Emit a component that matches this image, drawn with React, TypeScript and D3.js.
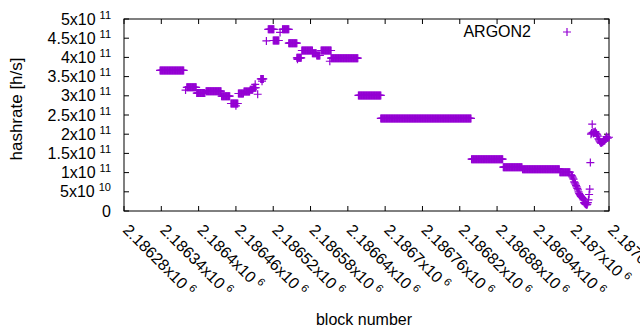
import { scaleLinear, range } from "d3";

const xTickValues = [
  2186280, 2186340, 2186400, 2186460, 2186520, 2186580, 2186640, 2186700,
  2186760, 2186820, 2186880, 2186940, 2187000, 2187060,
];
const xTickLabels = [
  "2.18628", "2.18634", "2.1864", "2.18646", "2.18652", "2.18658", "2.18664",
  "2.1867", "2.18676", "2.18682", "2.18688", "2.18694", "2.187", "2.18706",
];
const yTickValues = [0, 5e10, 1e11, 1.5e11, 2e11, 2.5e11, 3e11, 3.5e11, 4e11, 4.5e11, 5e11];
const yTickMantissas = ["0", "5", "1", "1.5", "2", "2.5", "3", "3.5", "4", "4.5", "5"];
const yTickExponents = ["", "10", "11", "11", "11", "11", "11", "11", "11", "11", "11"];

// constant-hashrate stretches (one point per block)
const runStartBlock = [
  2186338, 2186381, 2186397, 2186412, 2186437, 2186452, 2186464, 2186473,
  2186483, 2186488, 2186500, 2186512, 2186520, 2186535, 2186545, 2186558,
  2186566, 2186583, 2186590, 2186597, 2186613, 2186657, 2186693, 2186839,
  2186890, 2186921, 2186981,
];
const runEndBlock = [
  2186376, 2186396, 2186410, 2186436, 2186450, 2186463, 2186472, 2186482,
  2186487, 2186492, 2186504, 2186521, 2186529, 2186545, 2186558, 2186565,
  2186583, 2186589, 2186595, 2186613, 2186656, 2186693, 2186838, 2186889,
  2186920, 2186980, 2186997,
];
const runHashrate = [
  3.66e11, 3.22e11, 3.07e11, 3.12e11, 2.99e11, 2.8e11, 3.06e11, 3.11e11,
  3.16e11, 3.21e11, 3.44e11, 4.73e11, 4.44e11, 4.73e11, 4.37e11, 3.99e11,
  4.18e11, 4.11e11, 4.05e11, 4.18e11, 3.98e11, 3.01e11, 2.41e11, 1.35e11,
  1.14e11, 1.09e11, 1.01e11,
];

// single blocks
const pointBlock = [
  2186379, 2186460, 2186491, 2186495, 2186502, 2186509, 2186531, 2186559,
  2186611, 2186999, 2187000, 2187001, 2187002, 2187003, 2187004, 2187005,
  2187006, 2187007, 2187008, 2187009, 2187010, 2187011, 2187012, 2187013,
  2187014, 2187015, 2187016, 2187017, 2187018, 2187019, 2187020, 2187021,
  2187022, 2187023, 2187024, 2187025, 2187026, 2187027, 2187028, 2187029,
  2187030, 2187031, 2187032, 2187033, 2187034, 2187035, 2187036, 2187037,
  2187038, 2187039, 2187040, 2187041, 2187042, 2187043, 2187044, 2187045,
  2187046, 2187047, 2187048, 2187049, 2187050, 2187051, 2187052, 2187053,
  2187054, 2187055, 2187056, 2187058, 2187060,
];
const pointHashrate = [
  3.15e11, 2.74e11, 3.3e11, 3.04e11, 3.38e11, 4.43e11, 4.65e11, 3.95e11,
  3.9e11, 0.94e11, 0.92e11, 0.89e11, 0.86e11, 0.83e11, 0.76e11, 0.73e11,
  0.7e11, 0.66e11, 0.63e11, 0.59e11, 0.55e11, 0.5e11, 0.46e11, 0.43e11,
  0.4e11, 0.38e11, 0.36e11, 0.35e11, 0.32e11, 0.29e11, 0.22e11, 0.2e11,
  0.18e11, 0.17e11, 0.16e11, 0.17e11, 0.22e11, 0.29e11, 0.43e11, 0.57e11,
  1.26e11, 2.0e11, 2.03e11, 2.26e11, 2.05e11, 2.02e11, 2.06e11, 2.04e11,
  2.07e11, 2.03e11, 2.01e11, 1.98e11, 1.95e11, 1.88e11, 1.85e11, 1.82e11,
  1.79e11, 1.77e11, 1.78e11, 1.8e11, 1.79e11, 1.82e11, 1.84e11, 1.83e11,
  1.86e11, 1.88e11, 1.94e11, 1.9e11, 1.92e11,
];

const color = "#9400d3";
const font = "'Liberation Sans', Arial, sans-serif";

function Plus({ x, y, s = 4 }: { x: number; y: number; s?: number }) {
  return <path d={`M${x - s},${y}H${x + s}M${x},${y - s}V${y + s}`} />;
}

export default function App() {
  const left = 124, right = 609, top = 19, bottom = 211;
  const x = scaleLinear().domain([2186280, 2187060]).range([left, right]);
  const y = scaleLinear().domain([0, 5e11]).range([bottom, top]);

  const points: { b: number; v: number }[] = [];
  runStartBlock.forEach((s, i) => {
    range(s, runEndBlock[i] + 1).forEach((b) => points.push({ b, v: runHashrate[i] }));
  });
  pointBlock.forEach((b, i) => points.push({ b, v: pointHashrate[i] }));

  return (
    <svg
      width={640}
      height={330}
      style={{ position: "absolute", left: 0, top: 0, background: "#fff" }}
      fontFamily={font}
    >
      <rect x={0} y={0} width={640} height={330} fill="#fff" />
      {/* y ticks */}
      {yTickValues.map((v, i) => (
        <g key={"y" + i}>
          <line x1={left} x2={left + 5} y1={y(v)} y2={y(v)} stroke="#000" />
          <line x1={right} x2={right - 5} y1={y(v)} y2={y(v)} stroke="#000" />
          <text x={111} y={y(v) + 5.5} textAnchor="end" fontSize={16}>
            {yTickMantissas[i] + (yTickExponents[i] ? "x10" : "")}
            {yTickExponents[i] && (
              <tspan dx={4} dy={-6} fontSize={11}>
                {yTickExponents[i]}
              </tspan>
            )}
          </text>
        </g>
      ))}
      {/* x ticks */}
      {xTickValues.map((v, i) => (
        <g key={"x" + i}>
          <line x1={x(v)} x2={x(v)} y1={bottom} y2={bottom - 5} stroke="#000" />
          <line x1={x(v)} x2={x(v)} y1={top} y2={top + 5} stroke="#000" />
          <text transform={`translate(${x(v) - 2},${231}) rotate(45)`} fontSize={16}>
            {xTickLabels[i] + "x10"}
            <tspan dx={4} dy={-6} fontSize={11}>
              6
            </tspan>
          </text>
        </g>
      ))}
      <rect x={left} y={top} width={right - left} height={bottom - top} fill="none" stroke="#000" />
      <g stroke={color} strokeWidth={1.2} fill="none">
        {points.map((p, i) => (
          <Plus key={i} x={x(p.b)} y={y(p.v)} />
        ))}
        <Plus x={567} y={32} />
      </g>
      <text x={531} y={37} textAnchor="end" fontSize={16}>
        ARGON2
      </text>
      <text x={364} y={325} textAnchor="middle" fontSize={16}>
        block number
      </text>
      <text transform="translate(22,109) rotate(-90)" textAnchor="middle" fontSize={17}>
        hashrate [h/s]
      </text>
    </svg>
  );
}
